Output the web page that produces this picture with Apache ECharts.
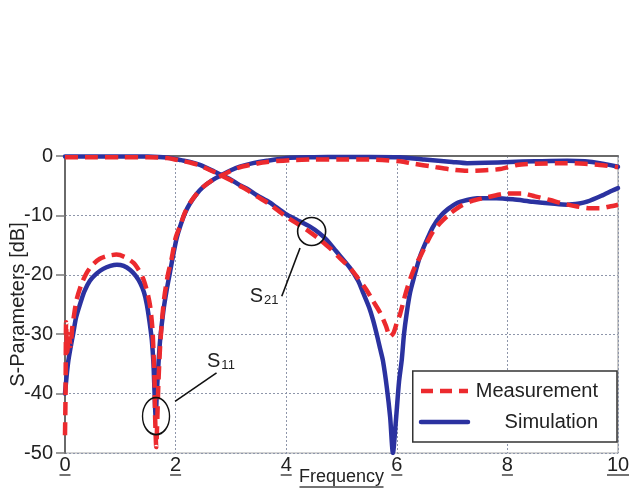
<!DOCTYPE html>
<html>
<head>
<meta charset="utf-8">
<script src="https://cdn.jsdelivr.net/npm/echarts@6/dist/echarts.min.js"></script>
<style>
  html, body { margin: 0; padding: 0; background: #fff; }
  #chart { width: 629px; height: 489px; }
</style>
</head>
<body>
<div id="chart"></div>
<script>
// Frequency (GHz) / S-parameter (dB) pairs for each trace
const s11Simulation = [
  [0,-40],[0.03,-37],[0.06,-34.5],[0.1,-32.3],[0.15,-29.8],[0.2,-27.2],[0.27,-25],[0.35,-22.8],
  [0.45,-21],[0.57,-19.8],[0.69,-19],[0.82,-18.5],[0.94,-18.3],[1.06,-18.5],[1.18,-19.2],
  [1.28,-20.2],[1.36,-21.4],[1.43,-23],[1.48,-25],[1.53,-28],[1.57,-31],[1.6,-35],[1.62,-40],
  [1.64,-44],[1.66,-40],[1.69,-35],[1.72,-31],[1.78,-26],[1.84,-22.5],[1.9,-19.5],[1.96,-16.5],
  [2.02,-13.8],[2.08,-11.9],[2.17,-9.6],[2.26,-8],[2.38,-6.4],[2.5,-5.2],[2.66,-4.1],[2.83,-3.2],
  [3.0,-2.4],[3.16,-1.8],[3.4,-1.2],[3.65,-0.8],[4.07,-0.3],[4.5,-0.2],[5.0,-0.15],[5.5,-0.15],
  [6.06,-0.2],[6.5,-0.6],[7.0,-1.0],[7.27,-1.2],[7.6,-1.15],[8.05,-1.0],[8.5,-0.9],[9.08,-0.8],
  [9.4,-0.9],[9.67,-1.2],[10,-1.8]
];
const s11Measurement = [
  [0,-47],[0.01,-40],[0.02,-28],[0.04,-33],[0.07,-30],[0.1,-32],[0.13,-29],[0.16,-27],[0.21,-24.2],
  [0.3,-21.5],[0.39,-19.7],[0.5,-18.3],[0.63,-17.3],[0.78,-16.8],[0.93,-16.6],[1.08,-17],
  [1.24,-18],[1.34,-19.3],[1.42,-20.8],[1.49,-23],[1.54,-25.3],[1.58,-29],[1.6,-33],[1.62,-38],
  [1.63,-44],[1.65,-49],[1.67,-44],[1.69,-38],[1.72,-32],[1.76,-27],[1.8,-23.5],[1.86,-20],
  [1.93,-17.2],[2.0,-13.8],[2.08,-11.8],[2.17,-9.5],[2.26,-7.9],[2.38,-6.4],[2.5,-5.2],
  [2.66,-4.1],[2.83,-3.3],[3.0,-2.5],[3.16,-1.9],[3.4,-1.4],[3.65,-1.0],[4.07,-0.7],[4.5,-0.6],
  [5.0,-0.6],[5.5,-0.6],[6.06,-0.9],[6.3,-1.3],[6.65,-1.8],[7.0,-2.3],[7.27,-2.5],[7.6,-2.4],
  [7.87,-2.2],[8.17,-1.5],[8.5,-1.3],[9.08,-1.2],[9.4,-1.3],[9.67,-1.5],[10,-1.9]
];
const s21Simulation = [
  [0,-0.1],[0.5,-0.1],[1.0,-0.1],[1.5,-0.1],[1.7,-0.15],[1.84,-0.25],[1.95,-0.4],[2.1,-0.7],
  [2.26,-1.0],[2.44,-1.5],[2.56,-2.0],[2.7,-2.6],[2.83,-3.2],[3.0,-4.0],[3.16,-4.9],[3.29,-5.5],
  [3.47,-6.6],[3.7,-7.8],[3.98,-9.7],[4.2,-10.8],[4.43,-11.9],[4.6,-13],[4.73,-14.1],[4.9,-16],
  [5.15,-18.8],[5.3,-21],[5.39,-23],[5.5,-25.5],[5.57,-27.6],[5.65,-30.5],[5.7,-32.5],
  [5.75,-34.5],[5.82,-39],[5.88,-44],[5.93,-50],[5.98,-45],[6.04,-38],[6.09,-34.3],[6.13,-30],
  [6.18,-26.4],[6.24,-23],[6.3,-20.8],[6.42,-16.9],[6.55,-14],[6.65,-12],[6.78,-10.2],
  [6.93,-8.9],[7.09,-7.9],[7.27,-7.4],[7.45,-7.1],[7.8,-7.1],[8.1,-7.3],[8.46,-7.7],[8.8,-8.0],
  [9.08,-8.2],[9.3,-8.0],[9.44,-7.7],[9.7,-6.7],[9.9,-5.8],[10,-5.4]
];
const s21Measurement = [
  [0,-0.2],[0.5,-0.2],[1.0,-0.2],[1.5,-0.2],[1.7,-0.25],[1.84,-0.35],[1.95,-0.5],[2.1,-0.8],
  [2.26,-1.1],[2.44,-1.6],[2.56,-2.1],[2.7,-2.7],[2.83,-3.3],[3.0,-4.1],[3.16,-5.0],[3.29,-5.7],
  [3.47,-6.8],[3.7,-8.1],[3.98,-10.1],[4.2,-11.4],[4.43,-12.8],[4.6,-14],[4.79,-15.5],
  [4.95,-17],[5.15,-18.8],[5.3,-20.6],[5.45,-22.5],[5.57,-24.4],[5.7,-26.4],[5.8,-28.5],
  [5.88,-30.4],[5.94,-29.8],[6.0,-28.1],[6.06,-26.6],[6.12,-24.5],[6.18,-22.5],[6.27,-20],
  [6.36,-18],[6.42,-17],[6.55,-14.5],[6.65,-12.8],[6.78,-11.3],[6.95,-9.8],[7.14,-8.5],
  [7.35,-7.6],[7.56,-7.1],[7.8,-6.6],[7.99,-6.3],[8.28,-6.3],[8.5,-6.8],[8.77,-7.4],[9.0,-8.0],
  [9.26,-8.5],[9.5,-8.8],[9.67,-8.8],[9.85,-8.5],[10,-8.2]
];

// Annotation anchors in data coordinates
const s21Circle = [4.46, -12.7];
const s11Ellipse = [1.646, -43.8];
const s21Arrow = [[3.92, -23.6], [4.25, -15.5]];
const s11Arrow = [[2.74, -36.5], [1.99, -41.3]];
const s21LabelPos = [3.6, -23.5];
const s11LabelPos = [2.82, -34.5];

const FONT = 'Liberation Sans, Arial, Helvetica, sans-serif';
const RED = '#ec2a2e';
const BLUE = '#2b32a0';

const chart = echarts.init(document.getElementById('chart'), null, { renderer: 'canvas' });

const simStyle = { color: BLUE, width: 4.5, type: 'solid', cap: 'round', join: 'round' };
const measStyle = { color: RED, width: 4.5, type: [13, 7], cap: 'butt', join: 'round' };

function lineSeries(name, data, style, z) {
  return {
    name, type: 'line', data, showSymbol: false, symbol: 'none',
    smooth: 0.25, lineStyle: style, itemStyle: { color: style.color },
    z, silent: true, animation: false
  };
}

const subRich = {
  s: { fontSize: 20, fontFamily: FONT, color: '#222', lineHeight: 22, verticalAlign: 'bottom' },
  sub: { fontSize: 13, fontFamily: FONT, color: '#222', lineHeight: 22, verticalAlign: 'bottom', padding: [0, 0, 0, 1] }
};

const noSymbol = { color: 'rgba(0,0,0,0)', borderWidth: 0 };

chart.setOption({
  backgroundColor: '#fff',
  animation: false,
  textStyle: { fontFamily: FONT },
  grid: {
    left: 65, right: 11, top: 156, bottom: 36,
    containLabel: false, outerBoundsMode: 'none',
    show: true, borderColor: '#a8a8a8', borderWidth: 1.2, backgroundColor: '#fff'
  },
  legend: {
    orient: 'vertical', right: 12, top: 371,
    backgroundColor: '#fff', borderColor: '#333', borderWidth: 1.5, borderRadius: 0,
    padding: [10, 19, 10, 6],
    itemWidth: 47, itemHeight: 14, itemGap: 11,
    itemStyle: noSymbol,
    lineStyle: { width: 4.5 },
    data: [
      { name: 'Measurement', itemStyle: noSymbol, lineStyle: { width: 4.5, color: RED, type: [12, 7] } },
      { name: 'Simulation', itemStyle: noSymbol, lineStyle: { width: 4.5, color: BLUE } }
    ],
    formatter: n => `{a|${n}}`,
    textStyle: {
      fontSize: 20, color: '#222', fontFamily: FONT,
      rich: { a: { width: 125, align: 'right', fontSize: 20, lineHeight: 24, fontFamily: FONT, color: '#222' } }
    },
    z: 20
  },
  xAxis: {
    type: 'value', min: 0, max: 10, interval: 2,
    name: '{t|Frequency}\n{u| }',
    nameLocation: 'middle', nameGap: 16, nameMoveOverlap: false,
    nameTextStyle: {
      rich: {
        t: { fontSize: 18, fontFamily: FONT, color: '#222', lineHeight: 17, align: 'center' },
        u: { width: 84, height: 1.5, lineHeight: 2, fontSize: 1, backgroundColor: '#444' }
      },
      verticalAlign: 'top'
    },
    axisLine: { show: true, lineStyle: { color: '#6a6a6a', width: 2 } },
    axisTick: { show: false },
    splitLine: { show: true, lineStyle: { color: '#8e96aa', width: 1, type: [2, 2] } },
    axisLabel: {
      margin: 3,
      showMinLabel: true, showMaxLabel: true,
      formatter: v => `{n|${v}}\n{${v >= 10 ? 'w' : 'u'}| }`,
      rich: {
        n: { fontSize: 20, fontFamily: FONT, color: '#222', lineHeight: 18, align: 'center' },
        u: { width: 11, height: 1.5, lineHeight: 2, fontSize: 1, backgroundColor: '#444' },
        w: { width: 22, height: 1.5, lineHeight: 2, fontSize: 1, backgroundColor: '#444' }
      }
    }
  },
  yAxis: {
    type: 'value', min: -50, max: 0, interval: 10,
    name: 'S-Parameters [dB]',
    nameLocation: 'middle', nameGap: 37, nameRotate: 90, nameMoveOverlap: false,
    nameTextStyle: { fontSize: 20, fontFamily: FONT, color: '#222' },
    axisLine: { show: true, lineStyle: { color: '#6a6a6a', width: 2 } },
    axisTick: { show: true, inside: false, length: 9, lineStyle: { color: '#7a7a7a', width: 1.5 } },
    splitLine: { show: true, lineStyle: { color: '#8e96aa', width: 1, type: [2, 2] } },
    axisLabel: { margin: 12, fontSize: 20, fontFamily: FONT, color: '#222' }
  },
  series: [
    lineSeries('Simulation', s11Simulation, simStyle, 3),
    lineSeries('Simulation', s21Simulation, simStyle, 3),
    lineSeries('Measurement', s11Measurement, measStyle, 4),
    lineSeries('Measurement', s21Measurement, measStyle, 4),
    {
      name: 'annotations', type: 'scatter', data: [], silent: true, z: 10,
      markPoint: {
        silent: true, animation: false,
        data: [
          { coord: s21Circle, symbol: 'circle', symbolSize: 28,
            itemStyle: { color: 'rgba(0,0,0,0)', borderColor: '#111', borderWidth: 1.6 },
            label: { show: false } },
          { coord: s11Ellipse, symbol: 'circle', symbolSize: [27, 37],
            itemStyle: { color: 'rgba(0,0,0,0)', borderColor: '#111', borderWidth: 1.6 },
            label: { show: false } },
          { coord: s21LabelPos, symbol: 'circle', symbolSize: 0,
            label: { show: true, position: 'inside', formatter: '{s|S}{sub|21}', rich: subRich } },
          { coord: s11LabelPos, symbol: 'circle', symbolSize: 0,
            label: { show: true, position: 'inside', formatter: '{s|S}{sub|11}', rich: subRich } }
        ]
      },
      markLine: {
        silent: true, animation: false,
        symbol: ['none', 'arrow'], symbolSize: [0, 12],
        lineStyle: { color: '#111', width: 1.6, type: 'solid' },
        label: { show: false },
        data: [
          [{ coord: s21Arrow[0] }, { coord: s21Arrow[1] }],
          [{ coord: s11Arrow[0] }, { coord: s11Arrow[1] }]
        ]
      }
    }
  ]
});
</script>
</body>
</html>
